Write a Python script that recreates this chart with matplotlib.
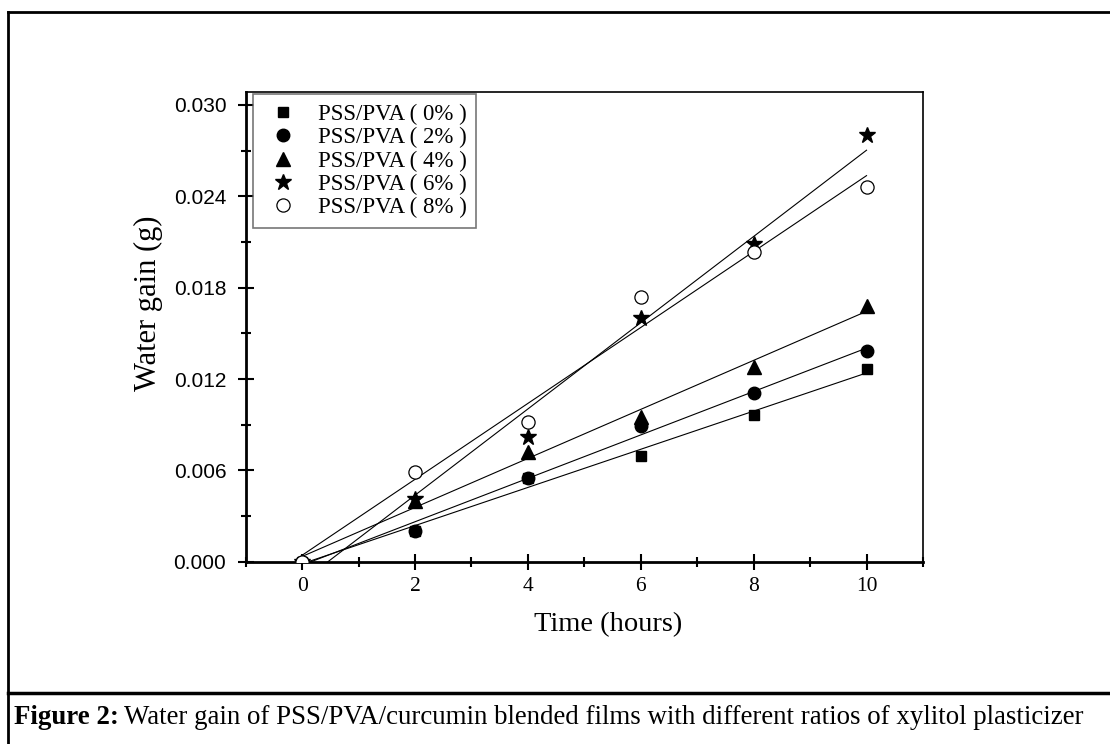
import numpy as np
import matplotlib.pyplot as plt
from matplotlib.lines import Line2D

# data
time_h = [0, 2, 4, 6, 8, 10]
gain_0 = [0.0, 0.00202, 0.00550, 0.00696, 0.00964, 0.01268]
gain_2 = [0.0, 0.00204, 0.00552, 0.00893, 0.01107, 0.01386]
gain_4 = [0.0, 0.00401, 0.00723, 0.00953, 0.01281, 0.01680]
gain_6 = [0.0, 0.00410, 0.00821, 0.01600, 0.02087, 0.02803]
gain_8 = [0.0, 0.00587, 0.00920, 0.01737, 0.02032, 0.02460]
labels = ['PSS/PVA ( 0% )', 'PSS/PVA ( 2% )', 'PSS/PVA ( 4% )',
          'PSS/PVA ( 6% )', 'PSS/PVA ( 8% )']

serif = ['Liberation Serif', 'DejaVu Serif']
sans = ['Liberation Sans', 'DejaVu Sans']

fig = plt.figure(figsize=(11.1, 7.44), dpi=100)
ax = fig.add_axes([0.2214, 0.2450, 0.6101, 0.6313])

series = [gain_0, gain_2, gain_4, gain_6, gain_8]
styles = [dict(marker='s', ms=7.5, mfc='black', mec='black'),
          dict(marker='o', ms=9, mfc='black', mec='black'),
          dict(marker='^', ms=10, mfc='black', mec='black'),
          dict(marker='*', ms=12, mfc='black', mec='black'),
          dict(marker='o', ms=9.5, mfc='white', mec='black', mew=0.9)]

x = np.array(time_h)
handles = []
for y, st, lab in zip(series, styles, labels):
    # linear fit line like in Origin
    k, b = np.polyfit(x, y, 1)
    ax.plot(x, k * x + b, color='black', lw=0.8, zorder=2)
    ax.plot(x, y, ls='none', zorder=3, **st)
    handles.append(Line2D([], [], ls='none', label=lab, **st))

ax.set_xlim(-1, 11)
ax.set_ylim(0, 0.03085)
ax.set_xticks([0, 2, 4, 6, 8, 10])
ax.set_xticks([-1, 1, 3, 5, 7, 9, 11], minor=True)
ax.set_yticks([0, 0.006, 0.012, 0.018, 0.024, 0.030])
ax.set_yticks([0.003, 0.009, 0.015, 0.021, 0.027], minor=True)
ax.set_yticklabels(['0.000', '0.006', '0.012', '0.018', '0.024', '0.030'],
                   family=sans, fontsize=15)
ax.set_xticklabels(['0', '2', '4', '6', '8', '10'], family=serif, fontsize=15.5)
ax.tick_params(which='major', direction='inout', length=12, width=1.5)
ax.tick_params(which='minor', direction='inout', length=7, width=1.5)
ax.tick_params(axis='x', pad=5)
ax.tick_params(axis='y', pad=8)
for s in ['left', 'bottom']:
    ax.spines[s].set_linewidth(2)
for s in ['right', 'top']:
    ax.spines[s].set_linewidth(1.2)

ax.set_xlabel('Time (hours)', family=serif, fontsize=20.5)
ax.xaxis.set_label_coords(0.535, -0.108)
ax.set_ylabel('Water gain (g)', family=serif, fontsize=22)
ax.yaxis.set_label_coords(-0.122, 0.55)

leg = ax.legend(handles=handles, loc='upper left', bbox_to_anchor=(0.011, 0.995),
                prop={'family': serif, 'size': 16.5}, frameon=True, fancybox=False,
                edgecolor='#555555', labelspacing=0.1, handletextpad=0.62,
                borderpad=0.4, handlelength=1.8, borderaxespad=0)
leg.get_frame().set_linewidth(1.2)

# outer frame (left and top only visible) and caption separator
y_top = 1 - 12 / 744
y_sep = 1 - 693 / 744
fig.add_artist(Line2D([8 / 1110, 8 / 1110], [0, y_top], transform=fig.transFigure,
                      color='black', lw=2))
fig.add_artist(Line2D([8 / 1110, 1], [y_top, y_top], transform=fig.transFigure,
                      color='black', lw=2))
fig.add_artist(Line2D([8 / 1110, 1], [y_sep, y_sep], transform=fig.transFigure,
                      color='black', lw=2.5))

cap_y = 1 - 717 / 744
t1 = fig.text(14 / 1110, cap_y, 'Figure 2:', family=serif, fontsize=19.4,
              fontweight='bold', va='center')
fig.canvas.draw()
bb = t1.get_window_extent()
fig.text((bb.x1 + 5) / 1110, cap_y,
         'Water gain of PSS/PVA/curcumin blended films with different ratios of xylitol plasticizer',
         family=serif, fontsize=19.4, va='center')

fig.savefig('out.png', dpi=100)
